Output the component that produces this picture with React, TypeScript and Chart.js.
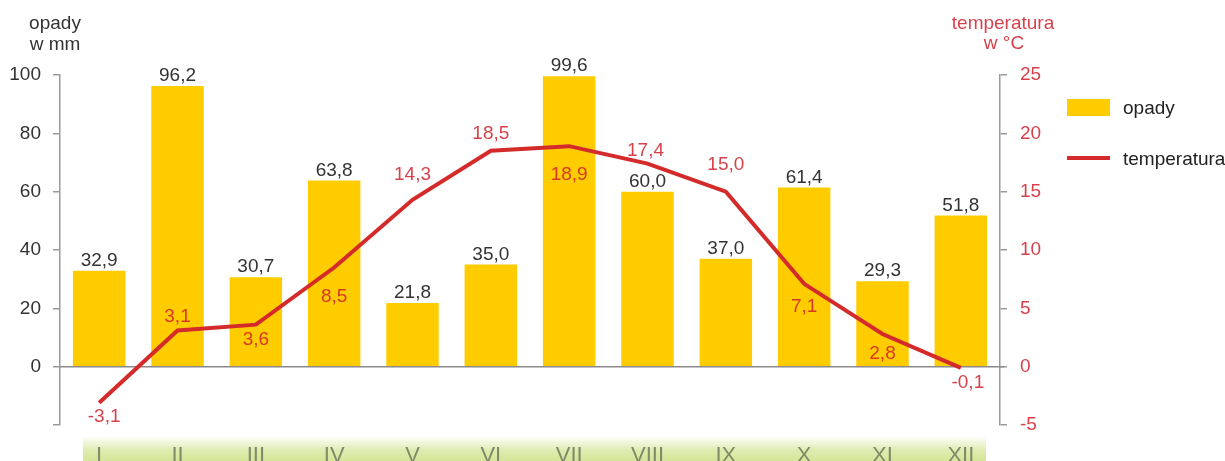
import React, { useEffect, useRef } from "react";
import { Chart, registerables } from "chart.js";

Chart.register(...registerables);

const months = ["I", "II", "III", "IV", "V", "VI", "VII", "VIII", "IX", "X", "XI", "XII"];
const precipitation = [32.9, 96.2, 30.7, 63.8, 21.8, 35.0, 99.6, 60.0, 37.0, 61.4, 29.3, 51.8];
const temperature = [-3.1, 3.1, 3.6, 8.5, 14.3, 18.5, 18.9, 17.4, 15.0, 7.1, 2.8, -0.1];
const leftTicks = [-20, 0, 20, 40, 60, 80, 100];
const rightTicks = [-5, 0, 5, 10, 15, 20, 25];

// label placement for temperature values (styling only)
const tempLabelDy = [14, -14, 15, 29, -25, -17, 29, -13, -27, 23, 20, 15];
const tempLabelDx = [5, 0, 0, 0, 0, 0, 0, -2, 0, 0, 0, 7];

const FONT = '"Liberation Sans", Arial, sans-serif';
const YELLOW = "#ffcc00";
const RED = "#d42a2a";
const TEXT_RED = "rgba(208,31,42,0.85)";
const AXIS = "#9a9a9a";

const fmt = (v: number) => v.toFixed(1).replace(".", ",");

const decorPlugin = {
  id: "decor",
  beforeDraw(chart: any) {
    const ctx = chart.ctx;
    ctx.save();
    const g = ctx.createLinearGradient(0, 436, 0, 461);
    g.addColorStop(0, "rgba(218,233,165,0)");
    g.addColorStop(0.55, "rgba(218,233,165,0.85)");
    g.addColorStop(1, "rgba(212,230,150,1)");
    ctx.fillStyle = g;
    ctx.fillRect(83, 436, 903, 25);
    ctx.restore();
  },
  afterDatasetDraw(chart: any, args: any) {
    if (args.index !== 0) return;
    const ctx = chart.ctx;
    const y = chart.scales.y.getPixelForValue(0);
    ctx.save();
    ctx.strokeStyle = "#8a8a8a";
    ctx.lineWidth = 1.5;
    ctx.beginPath();
    ctx.moveTo(chart.chartArea.left, y);
    ctx.lineTo(chart.chartArea.right + 4, y);
    ctx.stroke();
    ctx.restore();
  },
  afterDraw(chart: any) {
    const ctx = chart.ctx;
    ctx.save();
    ctx.font = `19px ${FONT}`;
    // bar labels
    const barMeta = chart.getDatasetMeta(0);
    ctx.fillStyle = "#333333";
    ctx.textAlign = "center";
    ctx.textBaseline = "alphabetic";
    barMeta.data.forEach((el: any, i: number) => {
      ctx.fillText(fmt(precipitation[i]), el.x, el.y - 5);
    });
    // temperature labels
    const lineMeta = chart.getDatasetMeta(1);
    ctx.fillStyle = TEXT_RED;
    ctx.textBaseline = "middle";
    lineMeta.data.forEach((el: any, i: number) => {
      ctx.fillText(fmt(temperature[i]), el.x + tempLabelDx[i], el.y + tempLabelDy[i]);
    });
    // axis titles
    ctx.textBaseline = "alphabetic";
    ctx.fillStyle = "#333333";
    ctx.fillText("opady", 55, 29);
    ctx.fillText("w mm", 55, 50);
    ctx.fillStyle = TEXT_RED;
    ctx.fillText("temperatura", 1003, 29);
    ctx.fillText("w °C", 1004, 49);
    // legend
    ctx.fillStyle = YELLOW;
    ctx.fillRect(1067, 99, 43, 17);
    ctx.strokeStyle = RED;
    ctx.lineWidth = 4;
    ctx.beginPath();
    ctx.moveTo(1067, 158);
    ctx.lineTo(1110, 158);
    ctx.stroke();
    ctx.fillStyle = "#222222";
    ctx.textAlign = "left";
    ctx.textBaseline = "middle";
    ctx.fillText("opady", 1123, 109);
    ctx.fillText("temperatura", 1123, 160);
    ctx.restore();
  },
};

export default function App() {
  const ref = useRef<HTMLCanvasElement | null>(null);
  useEffect(() => {
    document.body.style.margin = "0";
    if (!ref.current) return;
    const chart = new Chart(ref.current, {
      type: "bar",
      data: {
        labels: months,
        datasets: [
          {
            type: "bar",
            label: "opady",
            data: precipitation,
            backgroundColor: YELLOW,
            yAxisID: "y",
            barPercentage: 0.67,
            categoryPercentage: 1,
            order: 2,
          },
          {
            type: "line",
            label: "temperatura",
            data: temperature,
            borderColor: RED,
            borderWidth: 4,
            pointRadius: 0,
            tension: 0,
            fill: false,
            yAxisID: "y1",
            order: 1,
          } as any,
        ],
      },
      options: {
        animation: false,
        responsive: false,
        devicePixelRatio: 1,
        layout: { padding: { top: 75, left: 0, right: 0, bottom: 0 } },
        plugins: { legend: { display: false }, tooltip: { enabled: false } },
        scales: {
          x: {
            grid: { display: false, drawTicks: false },
            border: { display: false },
            ticks: { color: "#7f8b68", font: { family: FONT, size: 22 }, padding: 18 },
            afterFit: (s: any) => {
              s.height = 36;
            },
          },
          y: {
            position: "left",
            min: -20,
            max: 100,
            afterBuildTicks: (s: any) => {
              s.ticks = leftTicks.map((v) => ({ value: v }));
            },
            ticks: {
              color: "#333333",
              font: { family: FONT, size: 19 },
              padding: 12,
              callback: (v: any) => (Number(v) < 0 ? "" : String(v)),
            },
            grid: { drawOnChartArea: false, tickLength: 7, tickColor: AXIS, lineWidth: 1.5 },
            border: { color: AXIS, width: 1.5 },
            afterFit: (s: any) => {
              s.width = 60;
            },
          },
          y1: {
            position: "right",
            min: -5,
            max: 25,
            afterBuildTicks: (s: any) => {
              s.ticks = rightTicks.map((v) => ({ value: v }));
            },
            ticks: {
              color: TEXT_RED,
              font: { family: FONT, size: 19 },
              padding: 13,
              callback: (v: any) => String(v),
            },
            grid: { drawOnChartArea: false, tickLength: 7, tickColor: AXIS, lineWidth: 1.5 },
            border: { color: AXIS, width: 1.5 },
            afterFit: (s: any) => {
              s.width = 225;
            },
          },
        },
      },
      plugins: [decorPlugin],
    });
    return () => chart.destroy();
  }, []);
  return (
    <div style={{ width: 1225, height: 461, position: "relative", background: "#fff" }}>
      <canvas ref={ref} width={1225} height={461} />
    </div>
  );
}
